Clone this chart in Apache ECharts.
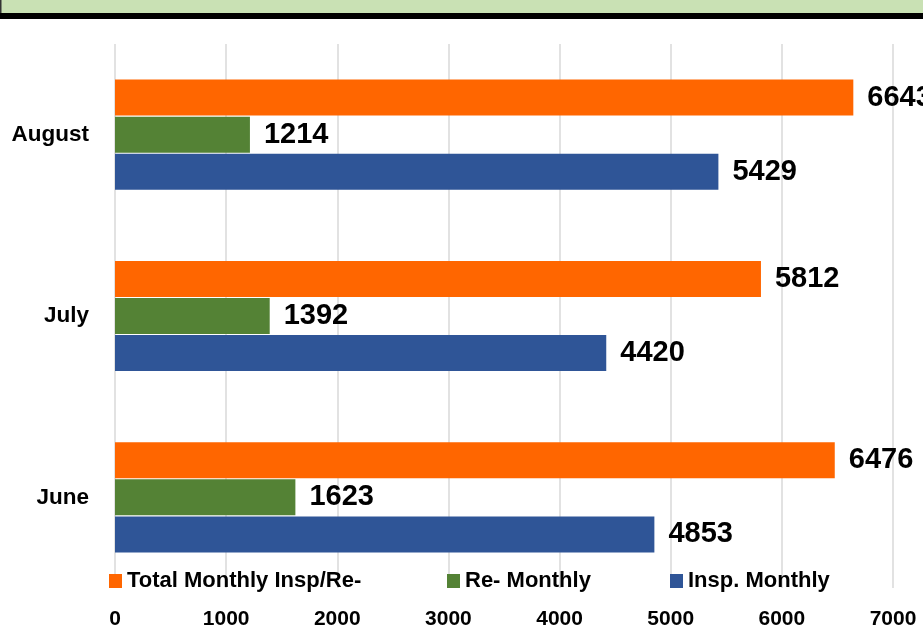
<!DOCTYPE html>
<html>
<head>
<meta charset="utf-8">
<script src="https://cdn.jsdelivr.net/npm/echarts@6/dist/echarts.min.js"></script>
<style>
  html, body { margin: 0; padding: 0; background: #fff; }
  #chart { width: 923px; height: 630px; }
</style>
</head>
<body>
<div id="chart"></div>
<script>
// 数据
var months = ["June", "July", "August"];
var inspMonthly = [4853, 4420, 5429];
var reMonthly = [1623, 1392, 1214];
var totalMonthly = [6476, 5812, 6643];
var xTicks = [0, 1000, 2000, 3000, 4000, 5000, 6000, 7000];

var font = "'Liberation Sans', Arial, sans-serif";

var myChart = echarts.init(document.getElementById("chart"));

function barSeries(name, color, data) {
  return {
    name: name,
    type: "bar",
    barWidth: 36,
    barGap: "3%",
    itemStyle: { color: color },
    label: {
      show: true,
      position: "right",
      distance: 14,
      color: "#000",
      fontFamily: font,
      fontWeight: "bold",
      fontSize: 29
    },
    data: data
  };
}

function oneLegend(name, left) {
  return {
    data: [name],
    left: left,
    top: 570,
    icon: "rect",
    itemWidth: 13,
    itemHeight: 14,
    padding: 0,
    selectedMode: false,
    textStyle: {
      color: "#000",
      fontFamily: font,
      fontWeight: "bold",
      fontSize: 22
    }
  };
}

var option = {
  animation: false,
  backgroundColor: "#fff",
  graphic: [
    { type: "rect", shape: { x: 0, y: 0, width: 923, height: 13 }, style: { fill: "#C9E1B4" } },
    { type: "rect", shape: { x: 0, y: 13, width: 923, height: 6 }, style: { fill: "#000" } },
    { type: "rect", shape: { x: 0, y: 0, width: 1.5, height: 13 }, style: { fill: "#333" } }
  ],
  legend: [
    oneLegend("Total Monthly Insp/Re-", 109),
    oneLegend("Re- Monthly", 447),
    oneLegend("Insp. Monthly", 670)
  ],
  grid: {
    left: 115,
    right: 30,
    top: 44,
    bottom: 42,
    containLabel: false
  },
  xAxis: {
    type: "value",
    min: xTicks[0],
    max: xTicks[xTicks.length - 1],
    interval: 1000,
    axisLine: { show: false },
    axisTick: { show: false },
    splitLine: { lineStyle: { color: "#D9D9D9", width: 1.5 } },
    axisLabel: {
      margin: 21,
      color: "#000",
      fontFamily: font,
      fontWeight: "bold",
      fontSize: 21,
      formatter: function(v) { return String(v); }
    }
  },
  yAxis: {
    type: "category",
    data: months,
    axisLine: { show: false },
    axisTick: { show: false },
    axisLabel: {
      margin: 26,
      color: "#000",
      fontFamily: font,
      fontWeight: "bold",
      fontSize: 22.5
    }
  },
  series: [
    barSeries("Total Monthly Insp/Re-", "#FF6600", totalMonthly),
    barSeries("Re- Monthly", "#548235", reMonthly),
    barSeries("Insp. Monthly", "#2F5597", inspMonthly)
  ]
};

myChart.setOption(option, true);
window.onresize = function() {
  myChart.resize();
};
</script>
</body>
</html>
